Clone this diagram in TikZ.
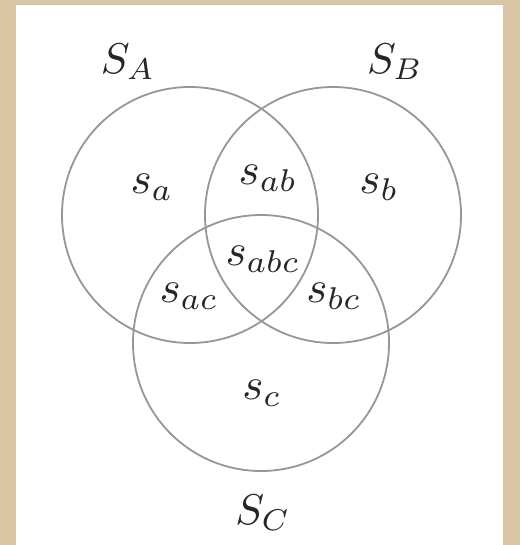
\documentclass[tikz,border=0pt]{standalone}
\definecolor{paper}{RGB}{217,197,163}
\definecolor{ring}{RGB}{150,150,155}
\begin{document}
\begin{tikzpicture}[x=1pt,y=-1pt,
  ringline/.style={draw=ring,line width=1.8pt},
  lab/.style={scale=4.3,inner sep=0pt,text=black!85},
  sub/.style={scale=4.5,inner sep=0pt,text=black!85}]
\useasboundingbox (0,0) rectangle (520,545);
\fill[paper] (0,0) rectangle (520,545);
\fill[white] (16,5) rectangle (503,545);
\draw[ringline] (190,215) circle (128);
\draw[ringline] (333,215) circle (128);
\draw[ringline] (261,343) circle (128);
\node[lab] (SA) at (128,62) {$S_A$};
\node[lab] (SB) at (395,62) {$S_B$};
\node[lab] (SC) at (263,513) {$S_C$};
\node[sub] (sa) at (152,187) {$s_a$};
\node[sub] (sab) at (268,178) {$s_{ab}$};
\node[sub] (sb) at (379,187) {$s_b$};
\node[sub] (sabc) at (263,259) {$s_{abc}$};
\node[sub] (sac) at (189,296) {$s_{ac}$};
\node[sub] (sbc) at (334,296) {$s_{bc}$};
\node[sub] (sc) at (262,393) {$s_c$};
\end{tikzpicture}
\end{document}
